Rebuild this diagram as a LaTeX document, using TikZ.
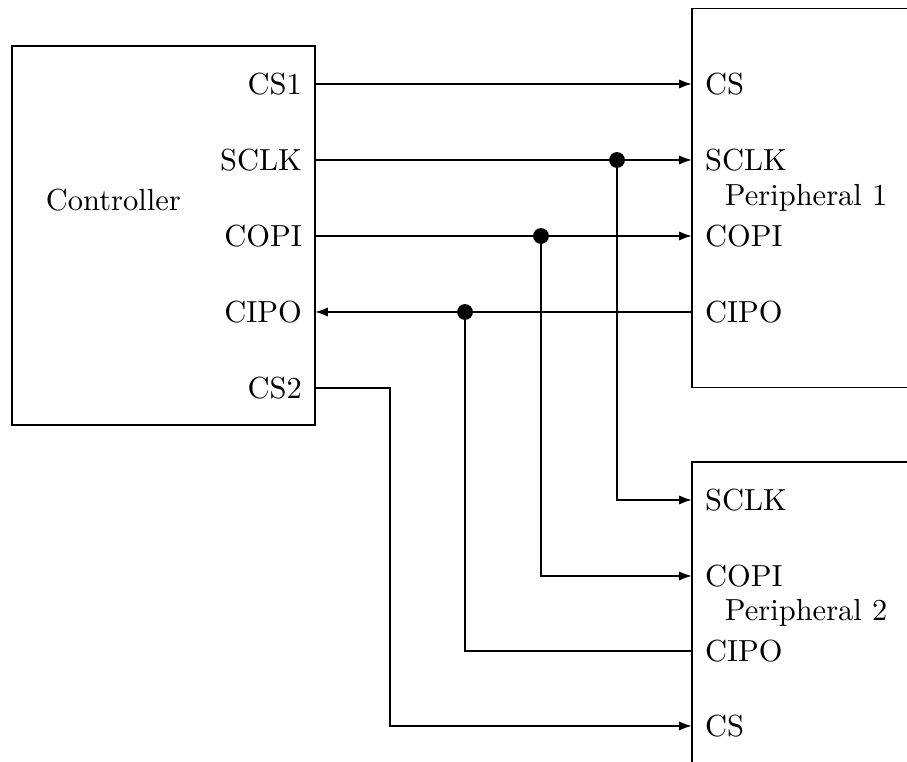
\documentclass[tikz,border=0pt]{standalone}
\usetikzlibrary{arrows.meta}
\begin{document}
\begin{tikzpicture}[x=0.328pt,y=-0.328pt,
  line width=0.6pt,
  box/.style={draw, rectangle, inner sep=0pt, minimum width=99.4pt, minimum height=124.3pt},
  pinl/.style={anchor=east, inner xsep=4pt, inner ysep=0pt},
  pinr/.style={anchor=west, inner xsep=4pt, inner ysep=0pt},
  wire/.style={draw},
  sig/.style={draw, -{Latex[length=4.2pt,width=3pt]}},
  junc/.style={fill, circle, inner sep=0pt, minimum size=5.2pt}]
\useasboundingbox (0,0) rectangle (907,762);
\clip (0,0) rectangle (907,762);
% boxes
\node[box] (ctrl) at (163.5,235.5) {};
\node[box] (p1) at (843.5,198) {};
\node[box] (p2) at (843.5,651.5) {};
% titles
\node[anchor=west, inner sep=0pt] (ctrlname) at (45,200) {Controller};
\node[anchor=west, inner sep=0pt] (p1name) at (724,198) {Peripheral 1};
\node[anchor=west, inner sep=0pt] (p2name) at (724,613) {Peripheral 2};
% controller pins
\node[pinl] (ccs1) at (315,84) {CS1};
\node[pinl] (csclk) at (315,160) {SCLK};
\node[pinl] (ccopi) at (315,236) {COPI};
\node[pinl] (ccipo) at (315,312) {CIPO};
\node[pinl] (ccs2) at (315,388) {CS2};
% peripheral 1 pins
\node[pinr] (acs) at (692,84) {CS};
\node[pinr] (asclk) at (692,160) {SCLK};
\node[pinr] (acopi) at (692,236) {COPI};
\node[pinr] (acipo) at (692,312) {CIPO};
% peripheral 2 pins
\node[pinr] (bsclk) at (692,500) {SCLK};
\node[pinr] (bcopi) at (692,576) {COPI};
\node[pinr] (bcipo) at (692,651) {CIPO};
\node[pinr] (bcs) at (692,726) {CS};
% junctions
\node[junc] (jsclk) at (617,160) {};
\node[junc] (jcopi) at (541,236) {};
\node[junc] (jcipo) at (465,312) {};
\coordinate (bend) at (390,388);
% connectors
\draw[sig] (ccs1.east) -- (acs.west);
\draw[sig] (csclk.east) -- (asclk.west);
\draw[sig] (ccopi.east) -- (acopi.west);
\draw[sig] (acipo.west) -- (ccipo.east);
\draw[sig] (jsclk.center) |- (bsclk.west);
\draw[sig] (jcopi.center) |- (bcopi.west);
\draw[wire] (bcipo.west) -| (jcipo.center);
\draw[sig] (ccs2.east) -- (bend) |- (bcs.west);
\end{tikzpicture}
\end{document}
